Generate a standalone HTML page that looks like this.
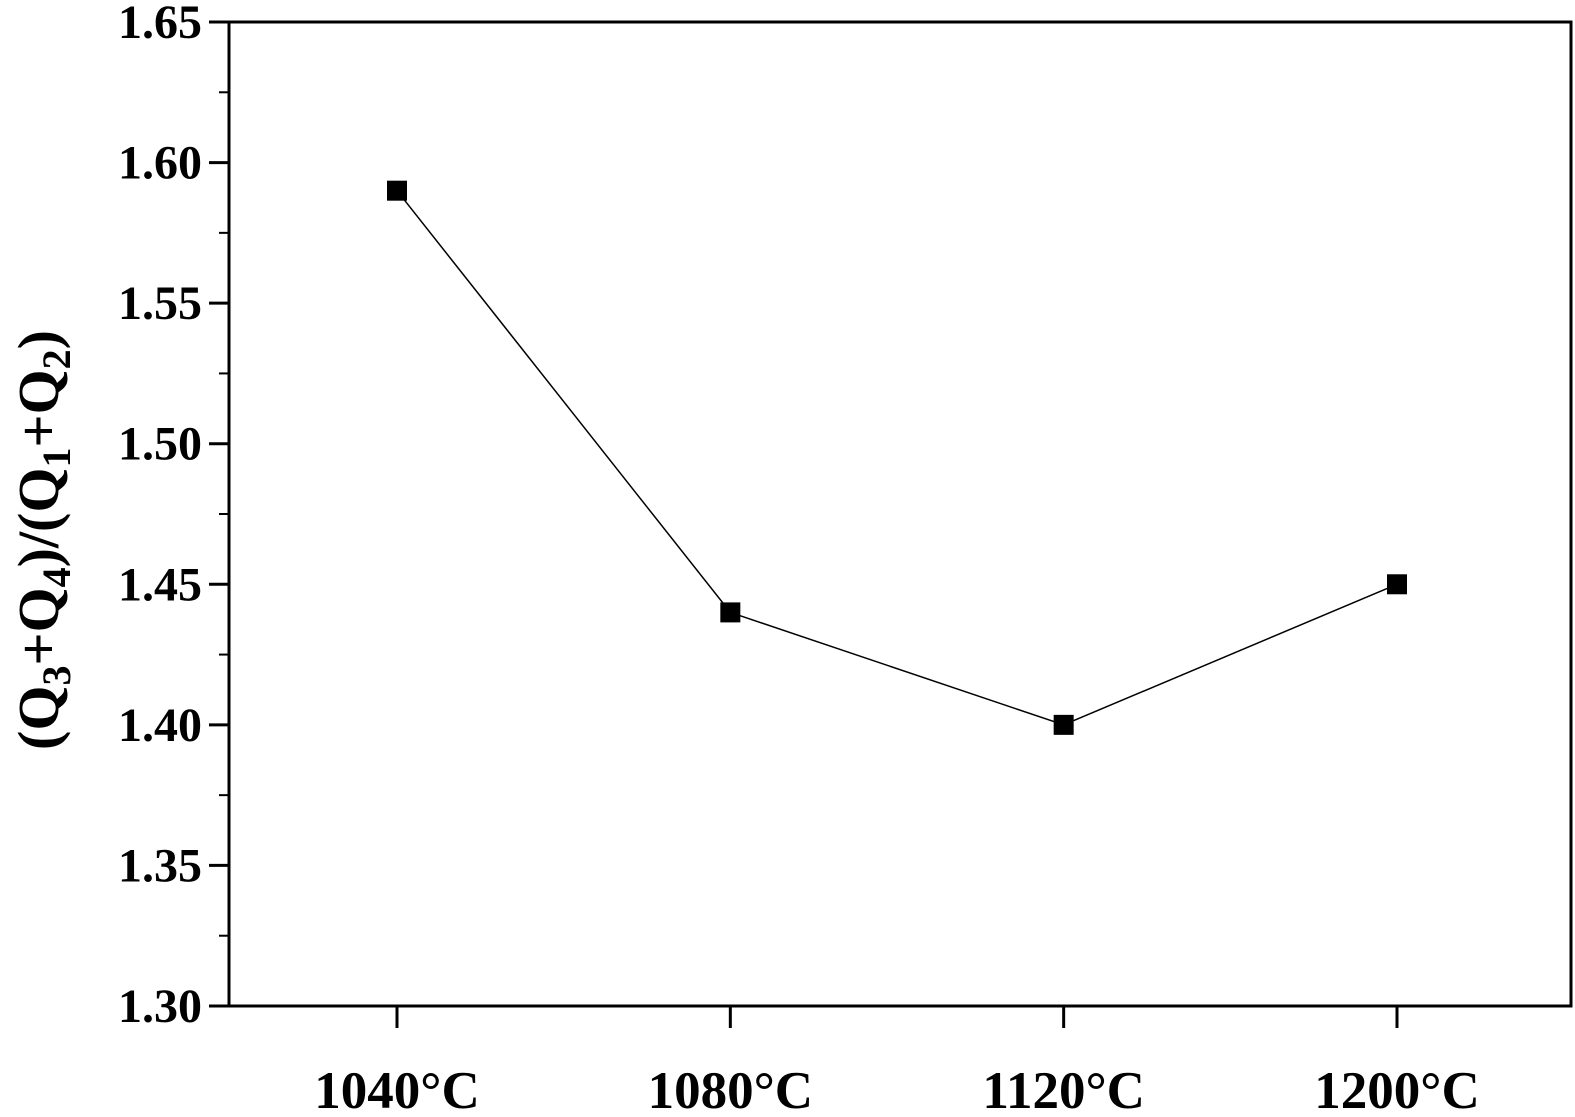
<!DOCTYPE html>
<html><head><meta charset="utf-8"><style>
html,body{margin:0;padding:0;background:#fff;}
svg{display:block;font-family:"Liberation Serif",serif;font-weight:bold;}
</style></head><body>
<svg id="chart" width="1575" height="1117" viewBox="0 0 1575 1117" xmlns="http://www.w3.org/2000/svg">
<g id="axes"></g><g id="series"></g>
<text transform="translate(58,540) rotate(-90)" text-anchor="middle" font-size="58">(Q<tspan font-size="40" dy="12">3</tspan><tspan dy="-12">+Q</tspan><tspan font-size="40" dy="12">4</tspan><tspan dy="-12">)/(Q</tspan><tspan font-size="40" dy="12">1</tspan><tspan dy="-12">+Q</tspan><tspan font-size="40" dy="12">2</tspan><tspan dy="-12">)</tspan></text>
</svg>
<script>
const categories = ["1040°C","1080°C","1120°C","1200°C"];
const values = [1.59, 1.44, 1.40, 1.45];
const yTicks = [1.30,1.35,1.40,1.45,1.50,1.55,1.60,1.65];
const yTickLabels = ["1.30","1.35","1.40","1.45","1.50","1.55","1.60","1.65"];

const L=229,R=1571,T=22,B=1006,ymin=1.30,ymax=1.65;
const xPos=[397,730,1063,1397];
function x(i){return xPos[0]+i*(xPos[3]-xPos[0])/(categories.length-1);}
function y(v){return B-(v-ymin)/(ymax-ymin)*(B-T);}
const NS="http://www.w3.org/2000/svg";
const axes=document.getElementById('axes'),series=document.getElementById('series');
function mk(tag,attrs,parent){const e=document.createElementNS(NS,tag);for(const k in attrs)e.setAttribute(k,attrs[k]);parent.appendChild(e);return e;}

const frame=mk('rect',{x:L,y:T,width:R-L,height:B-T,fill:'none',stroke:'#000','stroke-width':3},axes);



yTicks.forEach((v,i)=>{
  const t=mk('line',{x1:L-20,x2:L,y1:y(v),y2:y(v),stroke:'#000','stroke-width':3},axes);
  
  
  const lb=mk('text',{x:L-27,y:y(v)+16,'text-anchor':'end','font-size':48},axes);
  lb.textContent=yTickLabels[i];
  
  
  if(i<yTicks.length-1){
    const mv=(v+yTicks[i+1])/2;
    const m=mk('line',{x1:L-10,x2:L,y1:y(mv),y2:y(mv),stroke:'#000','stroke-width':2},axes);
    
    
  }
});
categories.forEach((c,i)=>{
  const t=mk('line',{x1:x(i),x2:x(i),y1:B,y2:B+22,stroke:'#000','stroke-width':3},axes);
  
  
  const lb=mk('text',{x:x(i),y:1108,'text-anchor':'middle','font-size':53},axes);
  lb.textContent=c;
  
  
});
const line=mk('polyline',{points:values.map((v,i)=>x(i)+','+y(v)).join(' '),fill:'none',stroke:'#000','stroke-width':1.5},series);


values.forEach((v,i)=>{
  const p=mk('rect',{x:x(i)-10,y:y(v)-10,width:20,height:20,fill:'#000'},series);
  
  
});
</script>
</body></html>
